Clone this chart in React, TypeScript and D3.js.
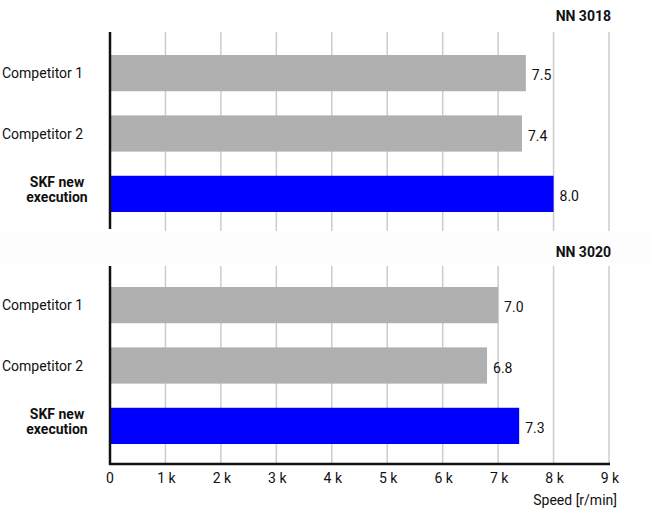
import React from "react";
import * as d3 from "d3";

const panels = ["NN 3018", "NN 3020"];
const categories = ["Competitor 1", "Competitor 2", "SKF new execution"];
const valuesNN3018 = [7.5, 7.43, 8.0];
const valuesNN3020 = [7.0, 6.8, 7.38];
const tickValues = [0, 1, 2, 3, 4, 5, 6, 7, 8, 9];
const tickLabels = ["0", "1 k", "2 k", "3 k", "4 k", "5 k", "6 k", "7 k", "8 k", "9 k"];
const axisTitle = "Speed [r/min]";

const W = 651, H = 514;
const FONT = "Roboto, 'Noto Sans', sans-serif";
const fmt = (v: number) => (Math.floor(v * 10 + 1e-6) / 10).toFixed(1);

export default function App() {
  const x = d3.scaleLinear().domain([0, 9]).range([110, 609]);
  const panelRanges: [number, number][] = [[32, 231], [266, 464]];
  const barRanges: [number, number][] = [[55, 212], [287, 444]];
  const allValues = [valuesNN3018, valuesNN3020];
  const colors = ["#b0b0b0", "#b0b0b0", "#0000ff"];

  return (
    <svg width={W} height={H} style={{ position: "absolute", left: 0, top: 0 }} fontFamily={FONT}>
      <rect x={0} y={0} width={W} height={H} fill="#fff" />
      {panels.map((p, pi) => {
        const [y0, y1] = panelRanges[pi];
        const y = d3.scaleBand().domain(categories).range(barRanges[pi]).paddingInner(0.4).paddingOuter(0);
        const vals = allValues[pi];
        return (
          <g key={p}>
            {tickValues.slice(1).map((t) => (
              <line key={t} x1={x(t)} x2={x(t)} y1={y0} y2={y1} stroke="#cccccc" strokeWidth={1.5} />
            ))}
            {categories.map((c, ci) => {
              const by = y(c)!;
              const bh = y.bandwidth();
              const cy = by + bh / 2;
              return (
                <g key={c}>
                  <rect x={x(0)} y={by} width={x(vals[ci]) - x(0)} height={bh} fill={colors[ci]} />
                  <text x={x(vals[ci]) + 6} y={cy + 7} fontSize={14} fill="#111">{fmt(vals[ci])}</text>
                  {ci < 2 ? (
                    <text x={2} y={cy + 5} fontSize={14} fill="#111">{c}</text>
                  ) : (
                    <text x={57} y={cy - 7} fontSize={14} fontWeight="bold" fill="#111" textAnchor="middle">
                      <tspan x={57}>SKF new</tspan>
                      <tspan x={57} dy={15}>execution</tspan>
                    </text>
                  )}
                </g>
              );
            })}
            <line x1={x(0)} x2={x(0)} y1={y0} y2={y1 - (pi === 0 ? 2 : -1)} stroke="#111" strokeWidth={2.5} />
          </g>
        );
      })}
      <rect x={0} y={233} width={W} height={32} fill="#fdfdfd" />
      {panels.map((p, pi) => (
        <text key={p} x={611} y={pi === 0 ? 21 : 257} textAnchor="end" fontWeight="bold" fontSize={14} fill="#111">{p}</text>
      ))}
      <line x1={x(0) - 1} x2={x(9) + 1} y1={464} y2={464} stroke="#111" strokeWidth={2.5} />
      {tickValues.map((t, i) => (
        <text key={t} x={x(t) + (i === 0 ? 0 : 1)} y={483} fontSize={14} textAnchor="middle" fill="#111">{tickLabels[i]}</text>
      ))}
      <text x={617} y={505} fontSize={14} textAnchor="end" fill="#111">{axisTitle}</text>
    </svg>
  );
}
